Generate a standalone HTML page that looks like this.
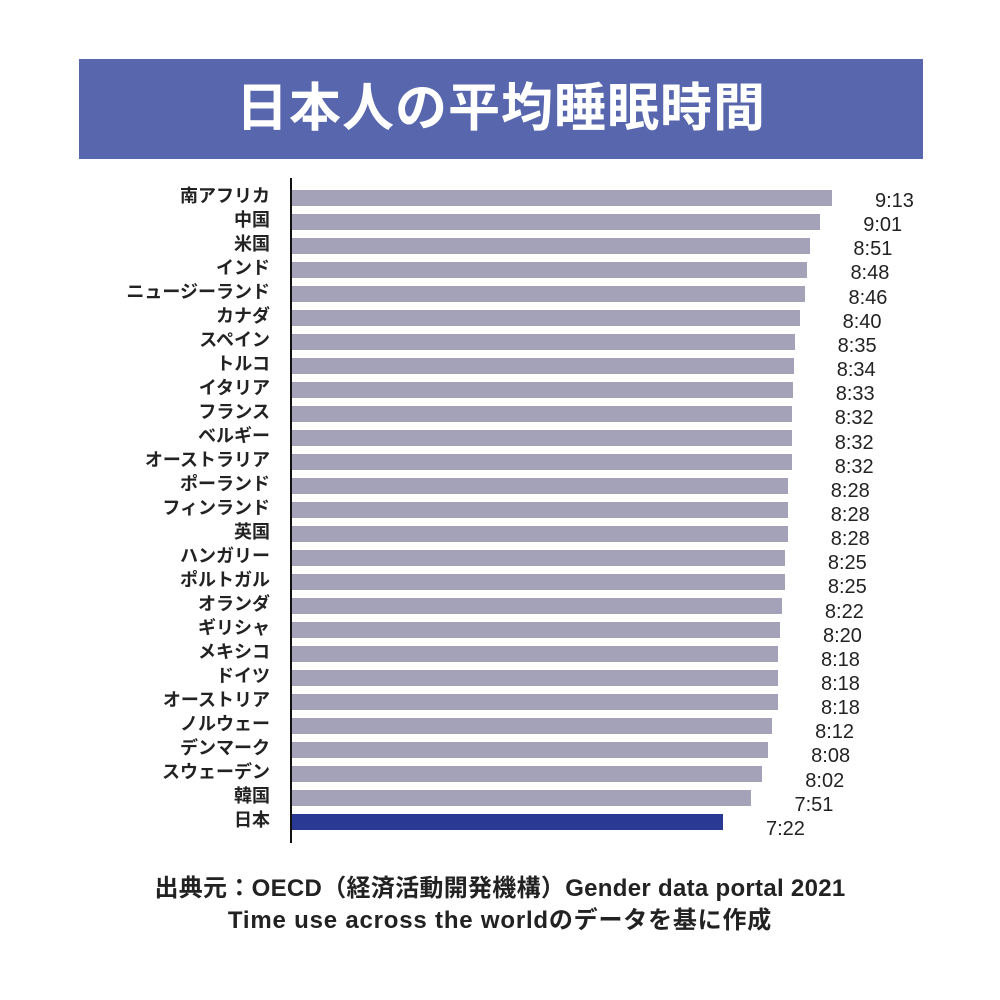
<!DOCTYPE html>
<html><head><meta charset="utf-8"><style>
html,body{margin:0;padding:0;background:#fff;width:1000px;height:1000px;overflow:hidden;position:relative;font-family:"Liberation Sans","Noto Sans CJK JP",sans-serif}
.title{position:absolute;left:79px;top:59px;width:844px;height:100px;background:#5766ad;color:#fff;font-size:52px;font-weight:bold;text-align:center;line-height:100px;letter-spacing:1px}
.axis{position:absolute;left:290px;top:178px;width:2px;height:665px;background:#111}
.bar{position:absolute;left:292px;height:16px;background:#a4a2b8}
.lab{position:absolute;width:270px;left:0;text-align:right;font-size:18px;font-weight:bold;color:#222;line-height:20px}
.val{position:absolute;font-size:20px;color:#222;line-height:20px}
.foot{position:absolute;left:0;width:1000px;text-align:center;font-size:24px;font-weight:bold;color:#222}
</style></head><body>
<div class="title">日本人の平均睡眠時間</div>
<div class="axis"></div>
<div id="c"></div>
<div class="foot" style="top:868px;letter-spacing:0.3px">出典元：OECD（経済活動開発機構）Gender data portal 2021</div>
<div class="foot" style="top:900px;letter-spacing:0.8px">Time use across the worldのデータを基に作成</div>
<script>
var d=[["南アフリカ","9:13"],["中国","9:01"],["米国","8:51"],["インド","8:48"],["ニュージーランド","8:46"],["カナダ","8:40"],["スペイン","8:35"],["トルコ","8:34"],["イタリア","8:33"],["フランス","8:32"],["ベルギー","8:32"],["オーストラリア","8:32"],["ポーランド","8:28"],["フィンランド","8:28"],["英国","8:28"],["ハンガリー","8:25"],["ポルトガル","8:25"],["オランダ","8:22"],["ギリシャ","8:20"],["メキシコ","8:18"],["ドイツ","8:18"],["オーストリア","8:18"],["ノルウェー","8:12"],["デンマーク","8:08"],["スウェーデン","8:02"],["韓国","7:51"],["日本","7:22"]];
var h="";
d.forEach(function(r,i){var p=r[1].split(":");var m=+p[0]*60+ +p[1];var x=723+(m-442)*0.982;var t=190+i*24;
h+='<div class="bar" style="top:'+t+'px;width:'+(x-292)+'px;'+(i==26?'background:#2a3a94':'')+'"></div>';
h+='<div class="lab" style="top:'+(t-4)+'px">'+r[0]+'</div>';
h+='<div class="val" style="top:'+(t+1+i*0.15)+'px;left:'+(x+43)+'px">'+r[1]+'</div>';});
document.getElementById("c").innerHTML=h;
</script>
</body></html>
